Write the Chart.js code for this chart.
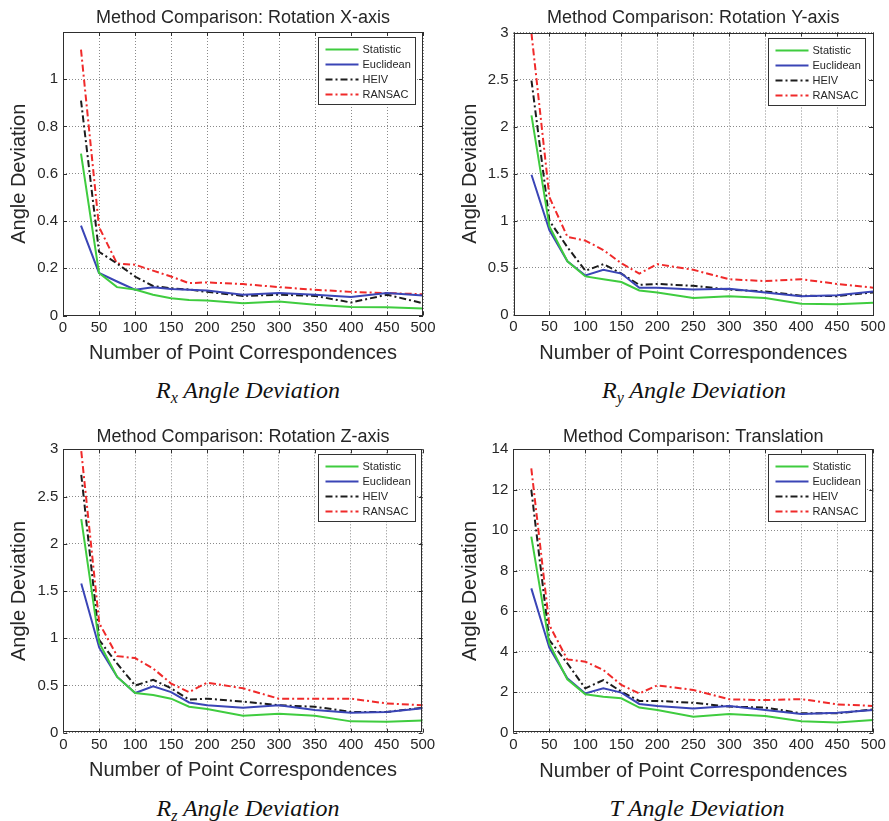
<!DOCTYPE html>
<html>
<head>
<meta charset="utf-8">
<script src="https://cdn.jsdelivr.net/npm/chart.js@4/dist/chart.umd.min.js"></script>
<style>
  html, body { margin: 0; padding: 0; background: #fff; }
  #page { position: relative; width: 889px; height: 821px; overflow: hidden; background: #fff; }
  canvas { position: absolute; }
  .cap {
    position: absolute; transform: translate(-50%, -50%);
    font-family: 'Liberation Serif', 'Times New Roman', serif; font-style: italic;
    font-size: 24px; line-height: 1; white-space: nowrap; color: #111;
  }
  .cap sub { font-size: 16px; vertical-align: -5px; line-height: 0; }
</style>
</head>
<body>
<div id="page">
  <canvas id="cRx" width="444" height="372" style="left:0px;top:0px"></canvas>
  <canvas id="cRy" width="444" height="372" style="left:445px;top:0px"></canvas>
  <canvas id="cRz" width="444" height="380" style="left:0px;top:410px"></canvas>
  <canvas id="cT"  width="444" height="380" style="left:445px;top:410px"></canvas>
  <div class="cap" style="left:248px;top:390px">R<sub>x</sub> Angle Deviation</div>
  <div class="cap" style="left:694px;top:390px">R<sub>y</sub> Angle Deviation</div>
  <div class="cap" style="left:248px;top:808px">R<sub>z</sub> Angle Deviation</div>
  <div class="cap" style="left:697px;top:808px">T Angle Deviation</div>
</div>
<script>
// Number of point correspondences used in each trial
const pointCounts = [25, 50, 75, 100, 125, 150, 175, 200, 250, 300, 350, 400, 450, 500];
const xTicks = [0, 50, 100, 150, 200, 250, 300, 350, 400, 450, 500];
const methods = ['Statistic', 'Euclidean', 'HEIV', 'RANSAC'];

// Rotation about X
const rxStatistic = [0.685, 0.18, 0.12, 0.11, 0.088, 0.073, 0.066, 0.064, 0.052, 0.059, 0.045, 0.036, 0.035, 0.030];
const rxEuclidean = [0.38, 0.18, 0.144, 0.109, 0.12, 0.112, 0.109, 0.106, 0.088, 0.095, 0.088, 0.078, 0.095, 0.085];
const rxHEIV      = [0.91, 0.27, 0.22, 0.165, 0.125, 0.115, 0.11, 0.10, 0.083, 0.088, 0.083, 0.055, 0.088, 0.052];
const rxRANSAC    = [1.125, 0.375, 0.22, 0.215, 0.19, 0.165, 0.137, 0.14, 0.133, 0.12, 0.109, 0.10, 0.095, 0.09];
const rxTicks     = [0, 0.2, 0.4, 0.6, 0.8, 1];

// Rotation about Y
const ryStatistic = [2.12, 0.94, 0.57, 0.41, 0.38, 0.35, 0.26, 0.24, 0.18, 0.20, 0.18, 0.12, 0.115, 0.13];
const ryEuclidean = [1.49, 0.90, 0.57, 0.42, 0.48, 0.44, 0.29, 0.29, 0.27, 0.28, 0.24, 0.20, 0.21, 0.25];
const ryHEIV      = [2.49, 1.00, 0.72, 0.47, 0.54, 0.44, 0.32, 0.33, 0.31, 0.27, 0.25, 0.205, 0.20, 0.24];
const ryRANSAC    = [2.99, 1.25, 0.83, 0.79, 0.69, 0.55, 0.44, 0.54, 0.48, 0.38, 0.36, 0.38, 0.33, 0.29];
const ryTicks     = [0, 0.5, 1, 1.5, 2, 2.5, 3];

// Rotation about Z
const rzStatistic = [2.26, 0.95, 0.59, 0.42, 0.40, 0.36, 0.275, 0.25, 0.18, 0.20, 0.18, 0.12, 0.115, 0.13];
const rzEuclidean = [1.58, 0.90, 0.59, 0.42, 0.49, 0.43, 0.32, 0.29, 0.265, 0.29, 0.24, 0.21, 0.22, 0.26];
const rzHEIV      = [2.73, 0.98, 0.73, 0.50, 0.56, 0.47, 0.35, 0.36, 0.33, 0.29, 0.275, 0.22, 0.22, 0.265];
const rzRANSAC    = [2.98, 1.16, 0.81, 0.79, 0.68, 0.52, 0.43, 0.53, 0.47, 0.36, 0.36, 0.36, 0.31, 0.29];
const rzTicks     = [0, 0.5, 1, 1.5, 2, 2.5, 3];

// Translation
const tStatistic = [9.69, 4.4, 2.64, 1.9, 1.78, 1.7, 1.24, 1.12, 0.79, 0.92, 0.82, 0.56, 0.51, 0.63];
const tEuclidean = [7.13, 4.2, 2.69, 1.94, 2.19, 1.98, 1.42, 1.32, 1.2, 1.32, 1.12, 0.92, 0.99, 1.12];
const tHEIV      = [12.0, 4.58, 3.43, 2.19, 2.6, 2.03, 1.57, 1.57, 1.48, 1.29, 1.24, 0.96, 0.96, 1.15];
const tRANSAC    = [13.06, 5.32, 3.62, 3.51, 3.1, 2.36, 1.94, 2.34, 2.11, 1.65, 1.61, 1.66, 1.4, 1.32];
const tTicks     = [0, 2, 4, 6, 8, 10, 12, 14];

const FONT = "'Liberation Sans', Arial, Helvetica, sans-serif";
const TEXT = '#262626';
const lineStyles = {
  Statistic: { color: '#3fcc3f', dash: [] },
  Euclidean: { color: '#3a45b6', dash: [] },
  HEIV:      { color: '#1c1c1c', dash: [7, 3, 2, 3] },
  RANSAC:    { color: '#f02a2a', dash: [7, 3, 2, 3] }
};

// Plot title centred over the axes, boxed axes with inward tick marks,
// and a boxed legend in the upper right corner
const frameAndLegend = {
  id: 'frameAndLegend',
  afterDraw(chart, args, opts) {
    const { ctx, chartArea: a, scales: { x, y } } = chart;
    ctx.save();

    ctx.fillStyle = TEXT;
    ctx.font = '18px ' + FONT;
    ctx.textAlign = 'center';
    ctx.textBaseline = 'middle';
    ctx.fillText(opts.title, (a.left + a.right) / 2, opts.titleY);

    ctx.strokeStyle = '#2e2e2e';
    ctx.lineWidth = 1;
    ctx.setLineDash([]);
    ctx.strokeRect(Math.round(a.left) + 0.5, Math.round(a.top) + 0.5,
                   Math.round(a.right - a.left) - 1, Math.round(a.bottom - a.top) - 1);
    ctx.beginPath();
    x.ticks.forEach(t => {
      const px = Math.round(x.getPixelForValue(t.value)) + 0.5;
      ctx.moveTo(px, a.bottom); ctx.lineTo(px, a.bottom - 4);
      ctx.moveTo(px, a.top);    ctx.lineTo(px, a.top + 4);
    });
    y.ticks.forEach(t => {
      const py = Math.round(y.getPixelForValue(t.value)) + 0.5;
      ctx.moveTo(a.left, py);  ctx.lineTo(a.left + 4, py);
      ctx.moveTo(a.right, py); ctx.lineTo(a.right - 4, py);
    });
    ctx.stroke();

    // legend
    const w = 97, h = 67;
    const bx = Math.round(a.right - 8 - w) + 0.5;
    const by = Math.round(a.top + 5) + 0.5;
    ctx.fillStyle = '#fff';
    ctx.fillRect(bx, by, w, h);
    ctx.strokeStyle = '#333';
    ctx.strokeRect(bx, by, w, h);
    ctx.font = '11px ' + FONT;
    ctx.textBaseline = 'middle';
    ctx.textAlign = 'left';
    chart.data.datasets.forEach((ds, i) => {
      const ly = Math.round(by + 11 + i * 15.3) + 0.5;
      ctx.beginPath();
      ctx.strokeStyle = ds.borderColor;
      ctx.lineWidth = 2;
      ctx.setLineDash(ds.borderDash || []);
      ctx.moveTo(bx + 7, ly); ctx.lineTo(bx + 40, ly);
      ctx.stroke();
      ctx.setLineDash([]);
      ctx.fillStyle = TEXT;
      ctx.fillText(ds.label, bx + 44, ly);
    });
    ctx.restore();
  }
};

function fmt(v) { return String(Number(Number(v).toFixed(3))); }

function panel(p) {
  const datasets = methods.map((m, i) => ({
    label: m,
    data: pointCounts.map((n, k) => ({ x: n, y: p.series[i][k] })),
    borderColor: lineStyles[m].color,
    borderDash: lineStyles[m].dash,
    borderWidth: 2,
    pointRadius: 0,
    fill: false,
    tension: 0
  }));
  const gridOpts = { color: '#8a8a8a', lineWidth: 1, drawTicks: false };
  const borderOpts = { display: false, dash: [1, 2] };
  new Chart(document.getElementById(p.id), {
    type: 'line',
    data: { datasets },
    options: {
      responsive: false,
      animation: false,
      devicePixelRatio: 1,
      layout: { padding: { left: 0, top: p.plotTop, right: p.padRight, bottom: 0 } },
      plugins: {
        legend: { display: false },
        tooltip: { enabled: false },
        title: { display: false },
        frameAndLegend: { title: p.title, titleY: p.titleY }
      },
      scales: {
        x: {
          type: 'linear', min: 0, max: 500,
          afterBuildTicks: s => { s.ticks = xTicks.map(v => ({ value: v })); },
          afterFit: s => { s.height = p.xHeight; },
          ticks: { autoSkip: false, maxRotation: 0, padding: 3, color: TEXT,
                   font: { family: FONT, size: 15 }, callback: v => fmt(v) },
          grid: gridOpts,
          border: borderOpts,
          title: { display: true, text: 'Number of Point Correspondences', color: TEXT,
                   font: { family: FONT, size: 20 }, padding: { top: 0, bottom: p.xTitlePad } }
        },
        y: {
          type: 'linear', min: 0, max: p.yMax,
          afterBuildTicks: s => { s.ticks = p.yTicks.map(v => ({ value: v })); },
          afterFit: s => { s.width = p.yWidth; },
          ticks: { padding: 5, color: TEXT, font: { family: FONT, size: 15 }, callback: v => fmt(v) },
          grid: gridOpts,
          border: borderOpts,
          title: { display: true, text: 'Angle Deviation', color: TEXT,
                   font: { family: FONT, size: 20 }, padding: { top: p.yTitlePad, bottom: 0 } }
        }
      }
    },
    plugins: [frameAndLegend]
  });
}

panel({
  id: 'cRx', title: 'Method Comparison: Rotation X-axis',
  series: [rxStatistic, rxEuclidean, rxHEIV, rxRANSAC],
  yTicks: rxTicks, yMax: 1.2,
  plotTop: 32, titleY: 18, padRight: 21, xHeight: 56.5, xTitlePad: 7, yWidth: 63, yTitlePad: 7
});
panel({
  id: 'cRy', title: 'Method Comparison: Rotation Y-axis',
  series: [ryStatistic, ryEuclidean, ryHEIV, ryRANSAC],
  yTicks: ryTicks, yMax: 3,
  plotTop: 32.5, titleY: 18, padRight: 16, xHeight: 57, xTitlePad: 7, yWidth: 68.5, yTitlePad: 13
});
panel({
  id: 'cRz', title: 'Method Comparison: Rotation Z-axis',
  series: [rzStatistic, rzEuclidean, rzHEIV, rzRANSAC],
  yTicks: rzTicks, yMax: 3,
  plotTop: 39.3, titleY: 27, padRight: 21.3, xHeight: 57.3, xTitlePad: 8, yWidth: 63.3, yTitlePad: 7
});
panel({
  id: 'cT', title: 'Method Comparison: Translation',
  series: [tStatistic, tEuclidean, tHEIV, tRANSAC],
  yTicks: tTicks, yMax: 14,
  plotTop: 39.3, titleY: 27, padRight: 15.7, xHeight: 57.3, xTitlePad: 7, yWidth: 68.3, yTitlePad: 13
});
</script>
</body>
</html>
